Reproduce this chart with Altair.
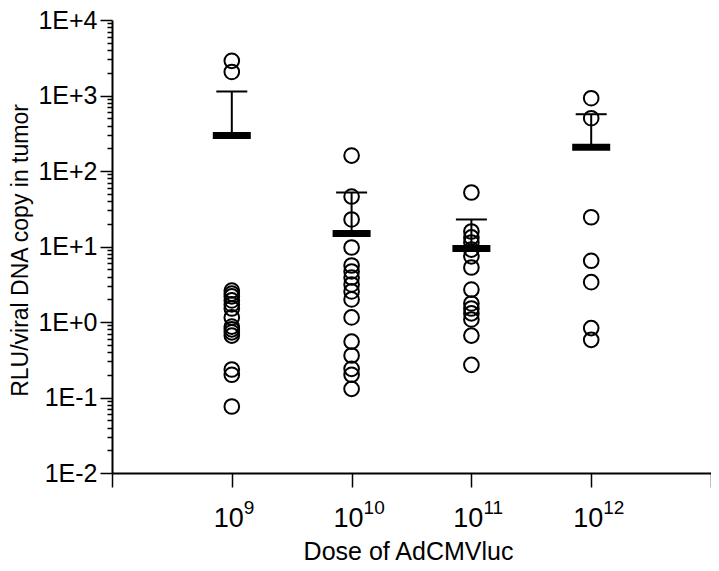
import altair as alt
import pandas as pd

# ---- data ----
dose_base = ["10", "10", "10", "10"]
dose_exp = ["9", "10", "11", "12"]
dose_pos = [1, 2, 3, 4]

g1 = [2880, 2050, 2.61, 2.38, 2.18, 1.93, 1.71, 1.51, 1.15, 0.87, 0.80, 0.73, 0.66, 0.235, 0.20, 0.076]
g2 = [160, 45.9, 22.8, 9.7, 5.6, 4.67, 3.88, 3.14, 2.54, 1.99, 1.15, 0.55, 0.36, 0.24, 0.20, 0.13]
g3 = [51.9, 15.8, 13.2, 11.3, 9.1, 7.4, 5.27, 2.69, 1.76, 1.51, 1.30, 1.08, 0.66, 0.27]
g4 = [920, 500, 24.4, 6.47, 3.37, 0.83, 0.58]
means = [295, 14.9, 9.4, 207]
err_top = [1130, 51.9, 22.8, 565]

y_major = [0.01, 0.1, 1, 10, 100, 1000, 10000]
minor_mult = [2, 3, 4, 5, 6, 7, 8, 9]
x_ticks = [0, 1, 2, 3, 4, 5]

# ---- tables ----
rows = []
for pos, grp in zip(dose_pos, [g1, g2, g3, g4]):
    for v in grp:
        rows.append({"x": pos, "y": v})
pts = pd.DataFrame(rows)
summ = pd.DataFrame({"x": dose_pos, "mean": means, "top": err_top})
labs = pd.DataFrame({"x": dose_pos, "base": dose_base, "exp": dose_exp})

y_ticks = list(y_major)
for m in y_major[:-1]:
    for k in minor_mult:
        y_ticks.append(m * k)

FONT = "Liberation Sans"
is_major = "abs(log(datum.value)/LN10 - round(log(datum.value)/LN10)) < 0.001"
exp_s = "round(log(datum.value)/LN10)"
y_label_expr = f"{is_major} ? '1E' + ({exp_s} >= 0 ? '+' : '') + {exp_s} : ''"

x_scale = alt.Scale(domain=[0, 5], nice=False, zero=False)
x_enc = alt.X(
    "x:Q",
    scale=x_scale,
    axis=alt.Axis(
        title="Dose of AdCMVluc",
        values=x_ticks,
        labels=False,
        grid=False,
        tickSize=14,
        tickWidth=1.5,
        tickColor="black",
        domainColor="black",
        domainWidth=2,
        titleFont=FONT,
        titleFontSize=25,
        titleFontWeight="normal",
        titleColor="black",
        titleX=296,
        titleY=78,
        titleBaseline="middle",
        titleAlign="center",
    ),
)

y_scale = alt.Scale(type="log", domain=[0.01, 10000], nice=False)
y_axis = alt.Axis(
    title="RLU/viral DNA copy in tumor",
    values=y_ticks,
    labelExpr=y_label_expr,
    grid=False,
    tickSize={"condition": {"test": is_major, "value": 12}, "value": 5},
    tickWidth=1.5,
    tickColor="black",
    domainColor="black",
    domainWidth=2,
    labelFont=FONT,
    labelFontSize=25,
    labelColor="black",
    labelPadding=3,
    labelOverlap=False,
    labelFlush=False,
    titleFont=FONT,
    titleFontSize=23,
    titleFontWeight="normal",
    titleColor="black",
    titleAngle=-90,
    titleX=-92,
    titleY=230,
    titleAlign="center",
    titleBaseline="middle",
)

points = alt.Chart(pts).mark_point(
    shape="circle", filled=False, size=215, strokeWidth=2, color="black", opacity=1
).encode(x=x_enc, y=alt.Y("y:Q", scale=y_scale, axis=y_axis))

err = alt.Chart(summ).mark_rule(color="black", strokeWidth=2).encode(
    x="x:Q", y=alt.Y("mean:Q", scale=y_scale), y2="top:Q"
)
cap = alt.Chart(summ).mark_tick(
    orient="horizontal", size=31, thickness=2, color="black", opacity=1
).encode(x="x:Q", y=alt.Y("top:Q", scale=y_scale))
bar = alt.Chart(summ).mark_tick(
    orient="horizontal", size=38, thickness=7, color="black", opacity=1
).encode(x="x:Q", y=alt.Y("mean:Q", scale=y_scale))

base_txt = alt.Chart(labs).mark_text(
    font=FONT, fontSize=27, color="black", align="right", baseline="alphabetic", dx=12
).encode(x="x:Q", y=alt.value(507), text="base:N")
exp_txt = alt.Chart(labs).mark_text(
    font=FONT, fontSize=19, color="black", align="left", baseline="alphabetic", dx=12
).encode(x="x:Q", y=alt.value(494), text="exp:N")

chart = (
    alt.layer(points, err, cap, bar, base_txt, exp_txt)
    .properties(
        width=599,
        height=453,
        autosize=alt.AutoSizeParams(type="none"),
        padding={"left": 104, "top": 12, "right": 0, "bottom": 90},
    )
    .configure_view(stroke=None, clip=False)
)

chart.save("out.html", embed_options={"renderer": "svg", "actions": False})
